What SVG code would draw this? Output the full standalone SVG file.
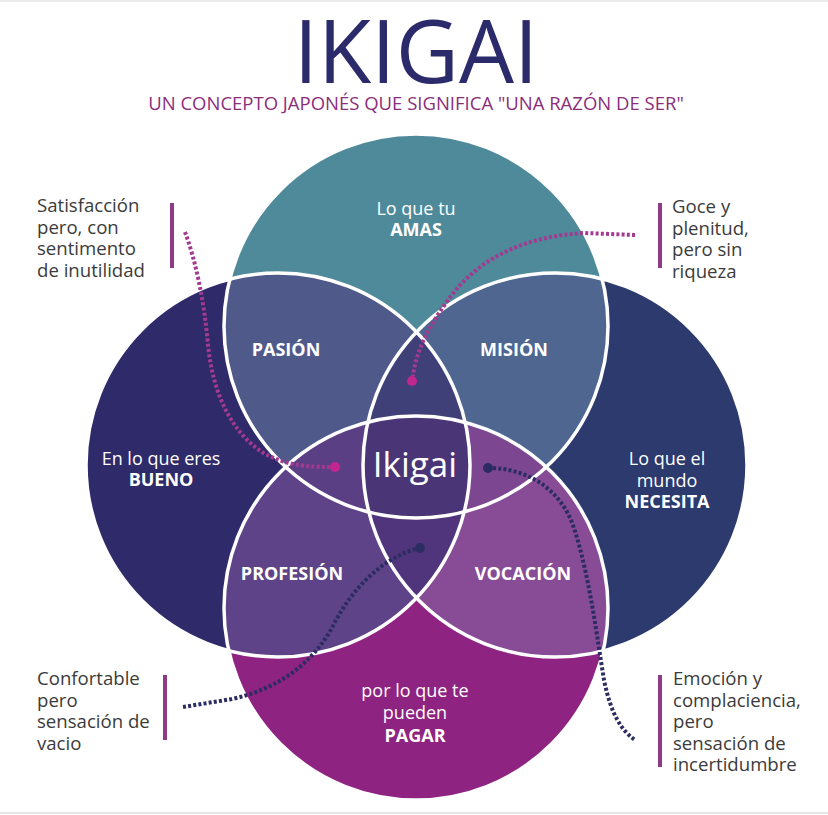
<svg xmlns="http://www.w3.org/2000/svg" width="828" height="815" viewBox="0 0 828 815">
<style>
  text { font-family: "Open Sans", "Noto Sans", "Liberation Sans", sans-serif; }
  .title { font-size: 87px; font-weight: 400; fill: #2b2a6b; text-anchor: middle; }
  .sub { font-size: 18.5px; fill: #8a2e7c; text-anchor: middle; }
  .lbl { font-size: 18px; fill: #ffffff; text-anchor: middle; }
  .b { font-weight: 700; }
  .big { font-size: 35px; }
  .note { font-size: 18.6px; fill: #3b3b3b; }
  .bar { fill: #8e3a84; }
  .outline { fill: none; stroke: #ffffff; stroke-width: 3.5; }
  .dotm { fill: none; stroke: #a33a91; stroke-width: 4; stroke-dasharray: 3 2.2; }
  .dotn { fill: none; stroke: #2b2d62; stroke-width: 4; stroke-dasharray: 3 2.2; }
</style>
<defs>
  <clipPath id="cT"><circle cx="416" cy="326" r="192"/></clipPath>
  <clipPath id="cB"><circle cx="416" cy="608" r="192"/></clipPath>
  <clipPath id="cL"><circle cx="278" cy="465" r="192"/></clipPath>
  <clipPath id="cR"><circle cx="555" cy="465" r="192"/></clipPath>
</defs>
<rect x="0" y="0" width="828" height="815" fill="#ffffff"/>
<line x1="0" y1="1" x2="828" y2="1" stroke="#e4e4e4" stroke-width="1.5"/>
<line x1="0" y1="813" x2="828" y2="813" stroke="#dcdcdc" stroke-width="1.5"/>

<g id="title">
  <text class="title" x="416" y="83">IKIGAI</text>
  <text class="sub" x="416" y="110">UN CONCEPTO JAPONÉS QUE SIGNIFICA "UNA RAZÓN DE SER"</text>
</g>

<g id="circles">
  <g id="circle-bueno"><circle cx="278" cy="465" r="192" fill="#2f2a69"/></g>
  <g id="circle-necesita"><circle cx="555" cy="465" r="192" fill="#2c3a6e"/></g>
  <g id="circle-amas"><circle cx="416" cy="326" r="192" fill="#4f8a9b"/></g>
  <g id="circle-pagar"><circle cx="416" cy="608" r="192" fill="#8f2382"/></g>
  <g id="region-pasion" clip-path="url(#cT)"><circle cx="278" cy="465" r="192" fill="#4f5a8b"/></g>
  <g id="region-mision" clip-path="url(#cT)"><circle cx="555" cy="465" r="192" fill="#4e6690"/></g>
  <g id="region-profesion" clip-path="url(#cB)"><circle cx="278" cy="465" r="192" fill="#5e4388"/></g>
  <g id="region-vocacion" clip-path="url(#cB)"><circle cx="555" cy="465" r="192" fill="#884b96"/></g>
  <g clip-path="url(#cL)"><g clip-path="url(#cR)"><circle cx="416" cy="326" r="192" fill="#3e4077"/></g></g>
  <g clip-path="url(#cL)"><g clip-path="url(#cR)"><circle cx="416" cy="608" r="192" fill="#50357c"/></g></g>
  <g clip-path="url(#cT)"><g clip-path="url(#cB)"><circle cx="278" cy="465" r="192" fill="#5b3f85"/></g></g>
  <g clip-path="url(#cT)"><g clip-path="url(#cB)"><circle cx="555" cy="465" r="192" fill="#7c4690"/></g></g>
  <g id="region-ikigai" clip-path="url(#cT)"><g clip-path="url(#cB)"><g clip-path="url(#cL)"><circle cx="555" cy="465" r="192" fill="#4a3576"/></g></g></g>
  <circle class="outline" cx="278" cy="465" r="192"/>
  <circle class="outline" cx="555" cy="465" r="192"/>
  <circle class="outline" cx="416" cy="326" r="192"/>
  <circle class="outline" cx="416" cy="608" r="192"/>
</g>

<g id="labels">
  <text class="lbl" x="416" y="215">Lo que tu</text>
  <text class="lbl b" x="416" y="236">AMAS</text>
  <text class="lbl b" x="286" y="356">PASIÓN</text>
  <text class="lbl b" x="514" y="356">MISIÓN</text>
  <text class="lbl" x="161" y="465">En lo que eres</text>
  <text class="lbl b" x="161" y="486">BUENO</text>
  <text class="lbl big" x="415" y="477">Ikigai</text>
  <text class="lbl" x="667" y="465">Lo que el</text>
  <text class="lbl" x="667" y="487">mundo</text>
  <text class="lbl b" x="667" y="508">NECESITA</text>
  <text class="lbl b" x="292" y="580">PROFESIÓN</text>
  <text class="lbl b" x="523" y="580">VOCACIÓN</text>
  <text class="lbl" x="415" y="697">por lo que te</text>
  <text class="lbl" x="415" y="719">pueden</text>
  <text class="lbl b" x="415" y="742">PAGAR</text>
</g>

<g id="connectors">
  <path class="dotm" d="M185,232 C196,262 204,300 208,345 C213,395 232,432 262,452 C285,466 310,467 330,467"/>
  <circle cx="335" cy="467" r="5" fill="#c2268f"/>
  <path class="dotm" d="M635,235 L585,233 C525,236 478,258 448,300 C430,325 416,350 413,376"/>
  <circle cx="412" cy="381" r="5" fill="#c2268f"/>
  <path class="dotn" d="M183,707 L232,699 C282,688 316,660 335,622 C352,590 380,560 415,549"/>
  <circle cx="420" cy="548" r="5" fill="#2b2d62"/>
  <path class="dotn" d="M493,468 C532,470 562,492 574,528 C590,578 597,638 604,680 C611,714 621,730 635,740"/>
  <circle cx="488" cy="468" r="5" fill="#2b2d62"/>
</g>

<g id="note-pasion">
  <rect class="bar" x="170" y="203" width="4" height="65"/>
  <text class="note" x="37" y="212">Satisfacción</text>
  <text class="note" x="37" y="233.5">pero, con</text>
  <text class="note" x="37" y="255">sentimento</text>
  <text class="note" x="37" y="276.5">de inutilidad</text>
</g>
<g id="note-mision">
  <rect class="bar" x="658" y="203" width="4" height="65"/>
  <text class="note" x="672" y="213">Goce y</text>
  <text class="note" x="672" y="234.5">plenitud,</text>
  <text class="note" x="672" y="256">pero sin</text>
  <text class="note" x="672" y="277.5">riqueza</text>
</g>
<g id="note-profesion">
  <rect class="bar" x="163" y="675" width="4" height="65"/>
  <text class="note" x="37" y="685">Confortable</text>
  <text class="note" x="37" y="706.5">pero</text>
  <text class="note" x="37" y="728">sensación de</text>
  <text class="note" x="37" y="749.5">vacio</text>
</g>
<g id="note-vocacion">
  <rect class="bar" x="658" y="675" width="4" height="92"/>
  <text class="note" x="673" y="685">Emoción y</text>
  <text class="note" x="673" y="706.5">complaciencia,</text>
  <text class="note" x="673" y="728">pero</text>
  <text class="note" x="673" y="749.5">sensación de</text>
  <text class="note" x="673" y="771">incertidumbre</text>
</g>
</svg>
